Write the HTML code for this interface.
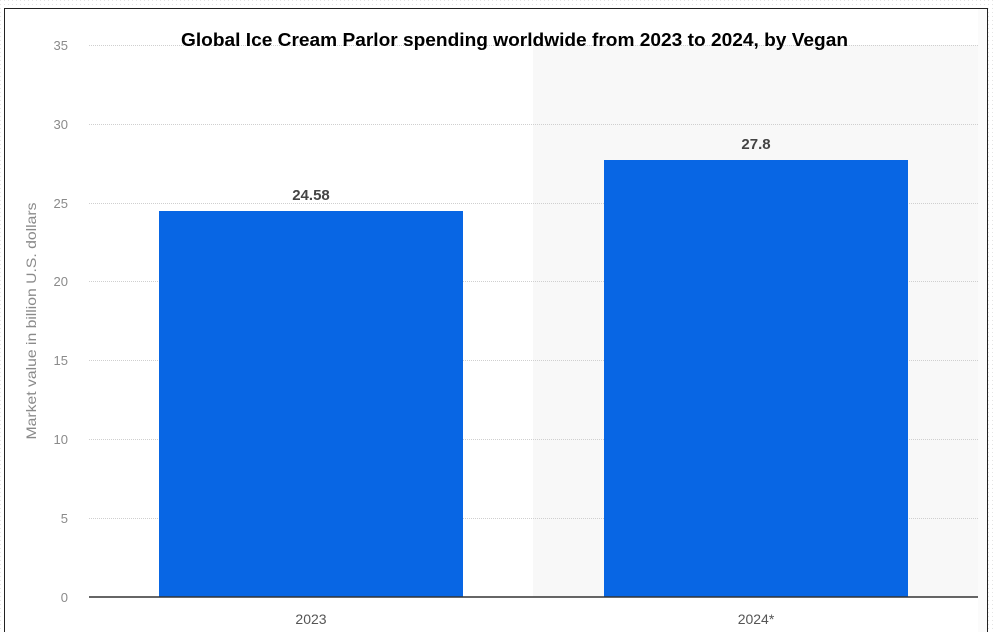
<!DOCTYPE html>
<html><head><meta charset="utf-8"><style>
html,body{margin:0;padding:0;background:#fff;}
svg{display:block;font-family:"Liberation Sans",sans-serif;}
</style></head><body>
<svg width="995" height="632" viewBox="0 0 995 632" xmlns="http://www.w3.org/2000/svg">
<defs><pattern id="dots" width="4" height="4" patternUnits="userSpaceOnUse"><rect width="4" height="4" fill="#fff"/><rect width="1" height="1" fill="#e4e4e4"/></pattern></defs>
<rect width="995" height="632" fill="url(#dots)"/>
<rect x="4.5" y="8.5" width="983" height="630" fill="#fff" stroke="#222" stroke-width="1"/>
<rect x="533" y="45" width="445" height="552" fill="#f8f8f8"/>
<rect x="978" y="9" width="9" height="623" fill="#fbfbfb"/>
<g stroke="#cfcfcf" stroke-width="1" stroke-dasharray="1,1">
<line x1="89" x2="978" y1="45.5" y2="45.5"/>
<line x1="89" x2="978" y1="124.5" y2="124.5"/>
<line x1="89" x2="978" y1="203.5" y2="203.5"/>
<line x1="89" x2="978" y1="281.5" y2="281.5"/>
<line x1="89" x2="978" y1="360.5" y2="360.5"/>
<line x1="89" x2="978" y1="439.5" y2="439.5"/>
<line x1="89" x2="978" y1="518.5" y2="518.5"/>
</g>
<g fill="#8a8a8a" font-size="13" text-anchor="end">
<text x="68" y="50">35</text><text x="68" y="129">30</text><text x="68" y="208">25</text>
<text x="68" y="286">20</text><text x="68" y="365">15</text><text x="68" y="444">10</text>
<text x="68" y="523">5</text><text x="68" y="602">0</text>
</g>
<text transform="translate(36,321) rotate(-90)" text-anchor="middle" fill="#8a8a8a" font-size="14" textLength="237" lengthAdjust="spacingAndGlyphs">Market value in billion U.S. dollars</text>
<rect x="159" y="211" width="304" height="386" fill="#0866e4"/>
<rect x="604" y="160" width="304" height="437" fill="#0866e4"/>
<line x1="89" x2="978" y1="597" y2="597" stroke="#333" stroke-width="1.5"/>
<g font-size="15" font-weight="bold" fill="#444" text-anchor="middle">
<text x="311" y="200">24.58</text><text x="756" y="149">27.8</text>
</g>
<g font-size="14" fill="#555" text-anchor="middle">
<text x="311" y="624">2023</text><text x="756" y="624">2024*</text>
</g>
<text x="181" y="46" font-size="18" font-weight="bold" fill="#000" textLength="667" lengthAdjust="spacingAndGlyphs">Global Ice Cream Parlor spending worldwide from 2023 to 2024, by Vegan</text>
</svg>
</body></html>
